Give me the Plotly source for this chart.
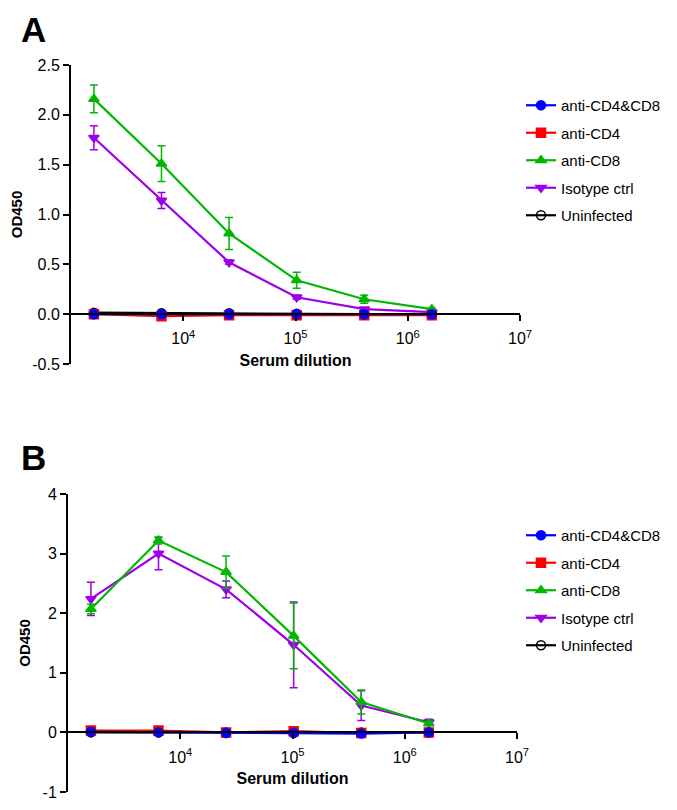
import plotly.graph_objects as go

# ---------------- data ----------------
dilution = [1600, 6400, 25600, 102400, 409600, 1638400]

series_names = ["anti-CD4&CD8", "anti-CD4", "anti-CD8", "Isotype ctrl", "Uninfected"]
series_colors = ["#0000FF", "#FF0000", "#00B800", "#9D00E8", "#000000"]
series_symbols = ["circle", "square", "triangle-up", "triangle-down", "circle-open"]

# Panel A
a_cd4cd8 = [0.00, 0.00, 0.00, 0.00, 0.00, 0.00]
a_cd4 = [0.00, -0.02, -0.01, -0.01, -0.01, -0.01]
a_cd8 = [2.16, 1.51, 0.81, 0.34, 0.15, 0.05]
a_cd8_err = [0.14, 0.18, 0.16, 0.08, 0.04, 0.01]
a_iso = [1.77, 1.14, 0.52, 0.17, 0.05, 0.02]
a_iso_err = [0.12, 0.08, 0.02, 0.02, 0.01, 0.01]
a_uninf = [0.015, 0.01, 0.01, 0.005, 0.0, 0.0]

# Panel B
b_cd4cd8 = [0.01, 0.00, -0.01, -0.01, -0.02, 0.00]
b_cd4 = [0.03, 0.03, 0.00, 0.02, -0.01, 0.00]
b_cd8 = [2.07, 3.22, 2.69, 1.62, 0.51, 0.15]
b_cd8_err = [0.08, 0.06, 0.27, 0.55, 0.20, 0.03]
b_iso = [2.24, 3.00, 2.40, 1.47, 0.45, 0.17]
b_iso_err = [0.28, 0.27, 0.14, 0.72, 0.25, 0.05]
b_uninf = [0.0, 0.0, 0.0, 0.0, 0.0, 0.0]

y_ticks_a = [-0.5, 0.0, 0.5, 1.0, 1.5, 2.0, 2.5]
y_ticktext_a = ["-0.5", "0.0", "0.5", "1.0", "1.5", "2.0", "2.5"]
y_ticks_b = [-1, 0, 1, 2, 3, 4]
y_ticktext_b = ["-1", "0", "1", "2", "3", "4"]
x_ticks = [1e4, 1e5, 1e6, 1e7]
x_ticktext = ["10<sup>4</sup>", "10<sup>5</sup>", "10<sup>6</sup>", "10<sup>7</sup>"]

# ---------------- figure ----------------
W, H = 677, 810
OFF = 8  # page body margin in the browser
FONT = "Arial, Liberation Sans, sans-serif"

fig = go.Figure()

panels = [
    dict(vals=[a_cd4cd8, a_cd4, a_cd8, a_iso, a_uninf],
         errs=[None, None, a_cd8_err, a_iso_err, None],
         xa="x", ya="y", legend="legend"),
    dict(vals=[b_cd4cd8, b_cd4, b_cd8, b_iso, b_uninf],
         errs=[None, None, b_cd8_err, b_iso_err, None],
         xa="x2", ya="y2", legend="legend2"),
]

for p in panels:
    # draw from last to first so the first series ends on top
    for i in reversed(range(len(series_names))):
        err = p["errs"][i]
        fig.add_trace(go.Scatter(
            x=dilution, y=p["vals"][i], name=series_names[i],
            mode="lines+markers",
            line=dict(color=series_colors[i], width=2.2),
            marker=dict(symbol=series_symbols[i], size=9,
                        color=series_colors[i],
                        line=dict(color=series_colors[i], width=1.5)),
            error_y=(dict(type="data", array=err, visible=True,
                          color=series_colors[i], thickness=1.5, width=4)
                     if err is not None else dict(visible=False)),
            xaxis=p["xa"], yaxis=p["ya"], legend=p["legend"],
            legendgroup=p["legend"] + str(i), legendrank=i + 1,
            cliponaxis=False,
        ))

def px_x(v):
    return (v - OFF) / W

def px_y(v):
    return 1 - (v - OFF) / H

# domains (screen-pixel based)
ax_a = dict(x0=71, x1=520, ytop=65, ybot=364, yr=[-0.5, 2.5])
ax_b = dict(x0=68, x1=517, ytop=494, ybot=792, yr=[-1, 4])

def zero_pos(ax):
    d0, d1 = px_y(ax["ybot"]), px_y(ax["ytop"])
    return d0 + (0 - ax["yr"][0]) / (ax["yr"][1] - ax["yr"][0]) * (d1 - d0)

common_x = dict(type="log", range=[3, 7], showline=True, linecolor="black",
                linewidth=2, ticks="outside", ticklen=6, tickwidth=2,
                tickcolor="black", tickvals=x_ticks, ticktext=x_ticktext,
                ticklabelstandoff=4,
                showgrid=False, zeroline=False, anchor="free", automargin=False,
                tickfont=dict(family=FONT, size=16, color="black"),
                title=dict(text="<b>Serum dilution</b>", standoff=7,
                           font=dict(family=FONT, size=16, color="black")))
common_y = dict(showline=True, linecolor="black", linewidth=2,
                ticks="outside", ticklen=6, tickwidth=2, tickcolor="black",
                showgrid=False, zeroline=False, automargin=False,
                tickfont=dict(family=FONT, size=16, color="black"),
                title=dict(text="<b>OD450</b>", standoff=8,
                           font=dict(family=FONT, size=15, color="black")))

legend_common = dict(font=dict(family=FONT, size=15, color="black"),
                     traceorder="grouped", tracegroupgap=5,
                     bgcolor="rgba(0,0,0,0)", xanchor="left", yanchor="top",
                     itemclick=False, itemdoubleclick=False)

fig.update_layout(
    width=W, height=H,
    margin=dict(l=0, r=0, t=0, b=0),
    paper_bgcolor="white", plot_bgcolor="white",
    showlegend=True,
    xaxis=dict(common_x, domain=[px_x(ax_a["x0"]), px_x(ax_a["x1"])],
               position=zero_pos(ax_a)),
    yaxis=dict(common_y, domain=[px_y(ax_a["ybot"]), px_y(ax_a["ytop"])],
               range=ax_a["yr"], tickvals=y_ticks_a, ticktext=y_ticktext_a,
               anchor="x"),
    xaxis2=dict(common_x, domain=[px_x(ax_b["x0"]), px_x(ax_b["x1"])],
                position=zero_pos(ax_b)),
    yaxis2=dict(common_y, domain=[px_y(ax_b["ybot"]), px_y(ax_b["ytop"])],
                range=ax_b["yr"], tickvals=y_ticks_b, ticktext=y_ticktext_b,
                anchor="x2"),
    legend=dict(legend_common, x=px_x(521), y=px_y(89)),
    legend2=dict(legend_common, x=px_x(521), y=px_y(519)),
    annotations=[
        dict(text="<b>A</b>", x=px_x(19), y=px_y(30), xref="paper", yref="paper",
             xanchor="left", yanchor="middle", showarrow=False,
             font=dict(family=FONT, size=35, color="black")),
        dict(text="<b>B</b>", x=px_x(19), y=px_y(457), xref="paper", yref="paper",
             xanchor="left", yanchor="middle", showarrow=False,
             font=dict(family=FONT, size=35, color="black")),
    ],
)

fig.write_html("out.html")
